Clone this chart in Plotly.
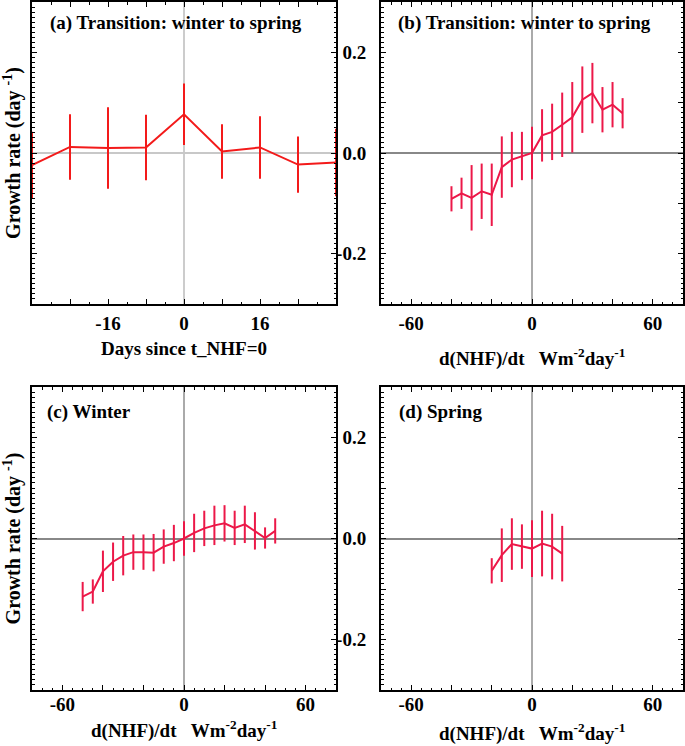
import plotly.graph_objects as go

# ---------------- data ----------------
# (a) Transition: winter to spring, growth rate vs days since t_NHF=0
a_days = [-32, -24, -16, -8, 0, 8, 16, 24, 32]
a_rate = [-0.024, 0.012, 0.010, 0.011, 0.077, 0.003, 0.011, -0.023, -0.019]
a_err = [0.066, 0.065, 0.081, 0.065, 0.061, 0.054, 0.062, 0.056, 0.067]

# (b) Transition: winter to spring, growth rate vs d(NHF)/dt
b_dnhf = [-40, -35, -30, -25, -20, -15, -10, -5, 0, 5, 10, 15, 20, 25, 30, 35, 40, 45]
b_rate = [-0.091, -0.080, -0.089, -0.076, -0.083, -0.028, -0.013, -0.006, 0.000,
          0.035, 0.042, 0.056, 0.071, 0.106, 0.119, 0.086, 0.096, 0.079]
b_err = [0.025, 0.031, 0.065, 0.055, 0.062, 0.061, 0.055, 0.048, 0.052,
         0.052, 0.056, 0.064, 0.070, 0.066, 0.060, 0.045, 0.045, 0.030]

# (c) Winter
c_dnhf = [-50, -45, -40, -35, -30, -25, -20, -15, -10, -5, 0, 5, 10, 15, 20, 25, 30, 35, 40, 45]
c_rate = [-0.115, -0.105, -0.065, -0.046, -0.034, -0.027, -0.027, -0.028, -0.016, -0.009,
          0.000, 0.011, 0.020, 0.026, 0.030, 0.021, 0.028, 0.015, 0.001, 0.015]
c_err = [0.029, 0.024, 0.041, 0.038, 0.039, 0.035, 0.035, 0.037, 0.034, 0.036,
         0.034, 0.038, 0.035, 0.039, 0.036, 0.034, 0.037, 0.037, 0.021, 0.025]

# (d) Spring
d_dnhf = [-20, -15, -10, -5, 0, 5, 10, 15]
d_rate = [-0.064, -0.033, -0.011, -0.016, -0.020, -0.010, -0.016, -0.030]
d_err = [0.025, 0.053, 0.051, 0.044, 0.056, 0.065, 0.065, 0.055]

panel_titles = ["(a) Transition: winter to spring", "(b) Transition: winter to spring",
                "(c) Winter", "(d) Spring"]
x_titles = ["Days since t_NHF=0",
            "d(NHF)/dt\u00a0\u00a0\u00a0Wm<sup>-2</sup>day<sup>-1</sup>",
            "d(NHF)/dt\u00a0\u00a0\u00a0Wm<sup>-2</sup>day<sup>-1</sup>",
            "d(NHF)/dt\u00a0\u00a0\u00a0Wm<sup>-2</sup>day<sup>-1</sup>"]
a_tickvals = [-24, -16, -8, 0, 8, 16, 24]
a_ticktext = ["", "-16", "", "0", "", "16", ""]
f_tickvals = [-60, -40, -20, 0, 20, 40, 60]
f_ticktext = ["-60", "", "", "0", "", "", "60"]
y_tickvals = [-0.2, -0.1, 0.0, 0.1, 0.2]
y_ticktext = ["-0.2", "", "0.0", "", "0.2"]

# ---------------- style ----------------
FONT = "Liberation Serif"
RED_A = "#f31a1a"
RED = "#ec1848"
W, H = 685, 746

def px(x):
    return x / W

def py(y):
    return 1 - y / H

fig = go.Figure()

def add_series(x, y, e, color, n):
    suffix = "" if n == 1 else str(n)
    fig.add_trace(go.Scatter(
        x=x, y=y, mode="lines",
        line=dict(color=color, width=2),
        error_y=dict(type="data", array=e, visible=True, color=color, thickness=2, width=0),
        xaxis="x" + suffix, yaxis="y" + suffix,
        cliponaxis=False, showlegend=False, hoverinfo="skip"))

add_series(a_days, a_rate, a_err, RED_A, 1)
add_series(b_dnhf, b_rate, b_err, RED, 2)
add_series(c_dnhf, c_rate, c_err, RED, 3)
add_series(d_dnhf, d_rate, d_err, RED, 4)

tickfont = dict(family=FONT, size=19, color="black", weight="bold")
titlefont = dict(family=FONT, size=19, color="black", weight="bold")

def xaxis(domain, anchor, rng, tv, tt, minor_dtick, zcol, lab_off):
    return dict(
        domain=domain, anchor=anchor, range=rng, automargin=False,
        showgrid=False, showline=True, linecolor="black", linewidth=2, mirror="allticks",
        ticks="inside", ticklen=5, tickwidth=1.2, tickcolor="black",
        tickmode="array", tickvals=tv, ticktext=tt, tickfont=tickfont,
        minor=dict(ticks="inside", dtick=minor_dtick, ticklen=2.5, tickwidth=1.2,
                   tickcolor="black", showgrid=False),
        zeroline=True, zerolinecolor=zcol, zerolinewidth=1.5,
        ticklabelstandoff=lab_off,
    )

def yaxis(domain, anchor, show_labels, title, zcol):
    d = dict(
        domain=domain, anchor=anchor, range=[-0.3, 0.3], automargin=False,
        showgrid=False, showline=True, linecolor="black", linewidth=2, mirror="allticks",
        ticks="inside", ticklen=5, tickwidth=1.2, tickcolor="black",
        tickmode="array", tickvals=y_tickvals, ticktext=y_ticktext,
        showticklabels=show_labels,
        tickfont=tickfont,
        minor=dict(ticks="inside", dtick=0.01, ticklen=2.5, tickwidth=1.2,
                   tickcolor="black", showgrid=False),
        zeroline=True, zerolinecolor=zcol, zerolinewidth=1.5,
        title=dict(text=title, font=dict(family=FONT, size=20, color="black", weight="bold"), standoff=6),
        ticklabelstandoff=9,
    )
    return d

xdom_l = [px(32), px(336)]
xdom_r = [px(381), px(683)]
ydom_t = [py(304), py(2)]
ydom_b = [py(690), py(387)]

ytitle = "Growth rate (day <sup>-1</sup>)"

fig.update_layout(
    width=W, height=H,
    margin=dict(l=0, r=0, t=0, b=0, autoexpand=False),
    paper_bgcolor="white", plot_bgcolor="white",
    font=dict(family=FONT, color="black"),
    xaxis=xaxis(xdom_l, "y", [-32, 32], a_tickvals, a_ticktext, 4, "#cccccc", 1),
    yaxis=yaxis(ydom_t, "x", False, ytitle, "#c8c8c8"),
    xaxis2=xaxis(xdom_r, "y2", [-75, 75], f_tickvals, f_ticktext, 5, "#aaaaaa", 1),
    yaxis2=yaxis(ydom_t, "x2", True, "", "#888888"),
    xaxis3=xaxis(xdom_l, "y3", [-75, 75], f_tickvals, f_ticktext, 5, "#aaaaaa", -4),
    yaxis3=yaxis(ydom_b, "x3", False, ytitle, "#888888"),
    xaxis4=xaxis(xdom_r, "y4", [-75, 75], f_tickvals, f_ticktext, 5, "#aaaaaa", -4),
    yaxis4=yaxis(ydom_b, "x4", True, "", "#888888"),
)

label_pos = [(48, 23), (396, 23), (45, 412), (397, 412)]
for (lx, ly), txt in zip(label_pos, panel_titles):
    fig.add_annotation(
        x=px(lx), y=py(ly), xref="paper", yref="paper",
        text=txt, showarrow=False, xanchor="left", yanchor="middle",
        font=dict(family=FONT, size=19, color="black", weight="bold"))

xtitle_pos = [(184, 348), (532, 357), (184, 729), (532, 732)]
for (tx, ty), txt in zip(xtitle_pos, x_titles):
    fig.add_annotation(
        x=px(tx), y=py(ty), xref="paper", yref="paper",
        text=txt, showarrow=False, xanchor="center", yanchor="middle",
        font=titlefont)

fig.write_html(
    "out.html",
    config={"displayModeBar": False},
    post_script="document.body.style.margin='0';document.body.style.overflow='hidden';",
)
